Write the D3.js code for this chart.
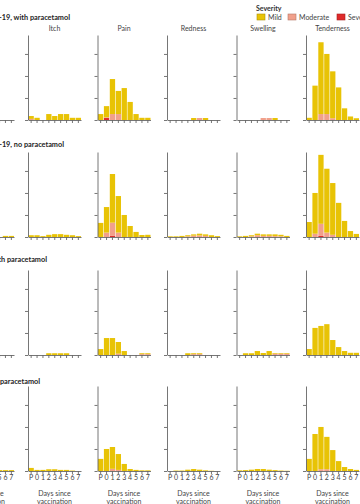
<!DOCTYPE html>
<html><head><meta charset="utf-8">
<script src="https://cdn.jsdelivr.net/npm/d3@7"></script>
<style>
body{margin:0;background:#fff}
svg{display:block;font-family:Lato,"Open Sans",sans-serif}
</style>
</head><body>
<svg id="chart" width="360" height="504"></svg>
<script>
// ---------- data ----------
const days = ["P","0","1","2","3","4","5","6","7"];
const symptoms = ["", "Itch", "Pain", "Redness", "Swelling", "Tenderness"]; // first column is cut off in the reference
const groups = [
  "ChAdOx1 nCoV-19, with paracetamol",
  "ChAdOx1 nCoV-19, no paracetamol",
  "MenACWY, with paracetamol",
  "MenACWY, no paracetamol"
];
const severities = ["Mild", "Moderate", "Severe"];
const yTickValues = [0, 10, 20, 30];
const yMax = 38.6;

// % of participants, per symptom column, per day (P..7)
const g1Mild = [
  [0,0,0,0,0,0,0,0,0],
  [1.3,1,0,2.7,1.8,2.7,2.7,1,1],
  [2.7,5.1,15.9,10.5,14.5,8.2,2.7,1,1],
  [0,0,0,0,0.9,0,0.9,0,0],
  [0,0,0,0,0,0,0.9,0,0],
  [1,15.6,32.6,27.3,21.3,14.8,5.3,1.6,0.8]
];
const g1Moderate = [
  [0,0,0,0,0,0,0,0,0],
  [0.5,0,0,0,0,0,0,0,0],
  [0,0.3,2.7,2.7,0,0,0,0,0],
  [0,0,0,0,0,0.9,0,0,0],
  [0,0,0,0,0.9,0.9,0,0,0],
  [0,0,2.7,2.7,0.8,0,0,0,0]
];
const g1Severe = [
  [0,0,0,0,0,0,0,0,0],
  [0,0,0,0,0,0,0,0,0],
  [0,0.9,0,0,0,0,0,0,0],
  [0,0,0,0,0,0,0,0,0],
  [0,0,0,0,0,0,0,0,0],
  [0,0,0,0,0,0,0,0,0]
];

const g2Mild = [
  [0,0,0,0,0,0,0,0.5,0.5],
  [0.8,0.8,0.4,1,1.3,1.3,1,0.8,0.4],
  [6.4,11.6,22.1,16.6,10,5,2.3,0.9,1],
  [0.3,0.3,0.5,0.5,0.6,0.8,0.7,0.8,0.4],
  [0.3,0.5,0.5,0.7,0.7,0.7,0.8,0.7,0.5],
  [6.8,18.5,31.3,29,23.5,15.5,7.3,2.7,1.4]
];
const g2Moderate = [
  [0,0,0,0,0,0,0,0,0],
  [0,0,0,0,0,0,0,0,0],
  [0,2,6,2,0,0,0,0,0],
  [0,0,0,0.3,0.6,0.7,0.5,0,0],
  [0,0,0.3,0.8,0.5,0.5,0.4,0.3,0],
  [0,1.5,5.5,2,1,0,0,0,0]
];
const g2Severe = [
  [0,0,0,0,0,0,0,0,0],
  [0,0,0,0,0,0,0,0,0],
  [0,0,0.5,0,0,0,0,0,0],
  [0,0,0,0,0,0,0,0,0],
  [0,0,0,0,0,0,0,0,0],
  [0,0,0.5,0,0,0,0,0,0]
];

const g3Mild = [
  [0,0,0,0,0,0,0,0,0],
  [0,0,0,0.8,0.8,0.8,0.8,0,0],
  [2.7,7.7,7.7,5.3,1.8,0,0,0.4,0.4],
  [0,0,0,0.8,0.4,0.4,0,0,0],
  [0,0.8,0.8,1.8,0.9,1.8,0.3,0.3,0.3],
  [2.7,12.3,13.2,14,6.8,3.6,1.8,1,1]
];
const g3Moderate = [
  [0,0,0,0,0,0,0,0,0],
  [0,0,0,0,0,0,0,0,0],
  [0,0,0,0.6,0,0,0,0.4,0.4],
  [0,0,0,0,0.4,0.4,0,0,0],
  [0,0,0,0,0,0,0.6,0.6,0.6],
  [0,0,0,0,0,0,0,0,0]
];
const g3Severe = [
  [0,0,0,0,0,0,0,0,0],
  [0,0,0,0,0,0,0,0,0],
  [0,0,0,0,0,0,0,0,0],
  [0,0,0,0,0,0,0,0,0],
  [0,0,0,0,0,0,0,0,0],
  [0,0,0,0,0,0,0,0,0]
];

const g4Mild = [
  [0,0,0,0,0,0.4,0.4,0.4,0.4],
  [1.4,0.5,0.5,0.8,0.8,0.5,0.5,0.2,0],
  [5.5,10,9.9,7.2,3.2,0.9,0.5,0.3,0.3],
  [0,0.2,0.2,0.6,0.9,0.6,0.3,0.1,0],
  [0.3,0.4,0.6,0.9,0.9,0.6,0.4,0.2,0.1],
  [5.5,16.8,19.2,14.7,9.5,4.5,1.8,0.9,0.5]
];
const g4Moderate = [
  [0,0,0,0,0,0,0,0,0],
  [0,0,0,0,0,0,0,0,0],
  [0,0,1,0.5,0,0,0,0,0],
  [0,0,0,0,0,0,0,0,0],
  [0,0,0,0,0,0,0,0,0],
  [0,0,0.8,0.8,0,0,0,0,0]
];
const g4Severe = [
  [0,0,0,0,0,0,0,0,0],
  [0,0,0,0,0,0,0,0,0],
  [0,0,0,0,0,0,0,0,0],
  [0,0,0,0,0,0,0,0,0],
  [0,0,0,0,0,0,0,0,0],
  [0,0,0,0,0,0,0,0,0]
];

const mildRows = [g1Mild, g2Mild, g3Mild, g4Mild];
const moderateRows = [g1Moderate, g2Moderate, g3Moderate, g4Moderate];
const severeRows = [g1Severe, g2Severe, g3Severe, g4Severe];

// ---------- layout ----------
const colors = {Mild: "#e8c305", Moderate: "#f1a08b", Severe: "#df2a2a"};
const axisColor = "#666";
const colX = [-39, 28, 97.5, 167, 236.5, 306];
const panelW = 53;
const rowLayout = [
  {base: 120, titleY: 19.5, titleEnd: 70},
  {base: 237, titleY: 146.5, titleEnd: 64},
  {base: 355, titleY: 262, titleEnd: 47},
  {base: 471, titleY: 383.5, titleEnd: 40}
];
const panelH = 85;

const svg = d3.select("#chart");

// legend
const lg = svg.append("g");
lg.append("text").attr("x", 256).attr("y", 10.5).attr("font-size", 7).attr("font-weight", "bold")
  .attr("fill", "#333").text("Severity");
const legX = [257, 288, 337];
severities.forEach((s, i) => {
  lg.append("rect").attr("x", legX[i]).attr("y", 14).attr("width", 8).attr("height", 6)
    .attr("fill", colors[s]).attr("stroke", d3.color(colors[s]).darker(0.8)).attr("stroke-width", 0.6);
  lg.append("text").attr("x", legX[i] + 11).attr("y", 19.8).attr("font-size", 7).attr("fill", "#444").text(s);
});

// column titles
symptoms.forEach((s, j) => {
  if (!s) return;
  svg.append("text").attr("x", colX[j] + panelW / 2).attr("y", 31).attr("text-anchor", "middle")
    .attr("font-size", 7).attr("fill", "#444").text(s);
});

groups.forEach((g, r) => {
  const L = rowLayout[r];
  svg.append("text").attr("x", L.titleEnd).attr("y", L.titleY).attr("text-anchor", "end")
    .attr("font-size", 7.3).attr("font-weight", "bold").attr("fill", "#222").text(g);

  const y = d3.scaleLinear().domain([0, yMax]).range([L.base, L.base - panelH]);

  symptoms.forEach((s, j) => {
    const x0 = colX[j];
    const x = d3.scaleBand().domain(days).range([x0 + 0.5, x0 + panelW]).paddingInner(0.1).paddingOuter(0);
    const rows = days.map((d, k) => ({
      day: d,
      Severe: severeRows[r][j][k],
      Moderate: moderateRows[r][j][k],
      Mild: mildRows[r][j][k]
    }));
    const stack = d3.stack().keys(["Severe", "Moderate", "Mild"])(rows);
    const pg = svg.append("g");
    pg.selectAll("g.layer").data(stack).join("g").attr("class", "layer")
      .attr("fill", d => colors[d.key])
      .selectAll("rect").data(d => d).join("rect")
      .attr("x", d => x(d.data.day))
      .attr("width", x.bandwidth())
      .attr("y", d => y(d[1]))
      .attr("height", d => Math.max(0, y(d[0]) - y(d[1])));

    // y axis
    const ya = pg.append("g").attr("transform", `translate(${x0},0)`)
      .call(d3.axisLeft(y).tickValues(yTickValues).tickSize(3).tickSizeOuter(0).tickFormat(""));
    // x axis
    const xa = pg.append("g").attr("transform", `translate(0,${L.base})`)
      .call(d3.axisBottom(x).tickSize(3).tickSizeOuter(0).tickFormat(r === 3 ? (d => d) : ""));
    [ya, xa].forEach(a => {
      a.selectAll("path,line").attr("stroke", axisColor).attr("stroke-width", 0.9);
      a.selectAll("text").attr("font-size", 7).attr("fill", "#444").attr("font-family", "Lato, sans-serif");
    });
    xa.selectAll("text").attr("dy", "0.55em").attr("y", 5);
    if (r === 3) {
      const t = pg.append("text").attr("text-anchor", "middle").attr("font-size", 7).attr("fill", "#444");
      t.append("tspan").attr("x", x0 + panelW / 2).attr("y", 495.5).text("Days since");
      t.append("tspan").attr("x", x0 + panelW / 2).attr("y", 503.5).text("vaccination");
    }
  });
});
</script>
</body></html>
